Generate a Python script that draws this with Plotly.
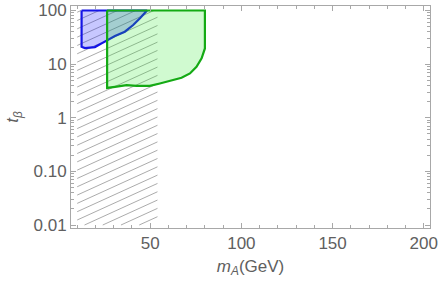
import numpy as np
import plotly.graph_objects as go

# ---- data ----
blue_x = [12.4, 12.4, 14.2, 19.7, 23.4, 26.1, 30.7, 36.1, 40.7, 44.4, 48.3, 12.4]
blue_y = [100, 21.0, 19.9, 20.8, 24.4, 27.3, 33.4, 40.2, 53.6, 71.5, 100, 100]

green_x = [26.4, 26.4, 30.7, 37.1, 42.5, 49.8, 55.3, 61.7, 67.2, 71.8, 75.4, 78.2, 80.0, 80.0, 26.4]
green_y = [100, 3.6, 3.77, 4.05, 3.93, 3.93, 4.36, 5.0, 5.55, 6.7, 8.9, 12.8, 19.6, 100, 100]

hatch_x = [10, 54]        # excluded m_A band
hatch_y = [0.01, 100]     # tan(beta) extent of the band

x_tickvals = [50, 100, 150, 200]
y_tickvals = [0.01, 0.1, 1, 10, 100]
y_ticktext = ["0.01", "0.10", "1", "10", "100"]

# ---- hatch lines computed from the band bounds ----
k = 0.0155      # log10 decades per GeV (line slope)
step = 0.155    # decade spacing between hatch lines
lx0, lx1 = hatch_x
ly0, ly1 = np.log10(hatch_y[0]), np.log10(hatch_y[1])
hx, hy = [], []
c = ly0 - k * (lx1 - lx0)
while c < ly1:
    xs = lx0 if c >= ly0 else lx0 + (ly0 - c) / k
    ye = c + k * (lx1 - lx0)
    xe = lx1 if ye <= ly1 else lx0 + (ly1 - c) / k
    if xe > xs:
        hx += [xs, xe, None]
        hy += [10 ** (c + k * (xs - lx0)), 10 ** (c + k * (xe - lx0)), None]
    c += step

fig = go.Figure()
fig.add_trace(go.Scatter(x=hx, y=hy, mode="lines",
                         line=dict(color="#8f8f8f", width=0.75),
                         hoverinfo="skip", showlegend=False))
fig.add_trace(go.Scatter(x=blue_x, y=blue_y, mode="lines", fill="toself",
                         fillcolor="rgba(0,0,255,0.22)",
                         line=dict(color="#1414e6", width=2.2),
                         showlegend=False))
fig.add_trace(go.Scatter(x=green_x, y=green_y, mode="lines", fill="toself",
                         fillcolor="rgba(40,230,40,0.22)",
                         line=dict(color="#14aa14", width=2.2),
                         showlegend=False))

font = dict(family="Liberation Sans, Arial, sans-serif", size=17, color="#606060")
axis_common = dict(showline=True, linecolor="#a8a8a8", linewidth=1, mirror="ticks",
                   ticks="inside", tickcolor="#a8a8a8", ticklen=5, showgrid=False,
                   zeroline=False, tickfont=font, automargin=False)

fig.update_layout(
    width=440, height=283,
    margin=dict(l=71, r=10, t=6, b=55),
    paper_bgcolor="white", plot_bgcolor="white",
    font=font,
    xaxis=dict(range=[6.6, 203.4], tickvals=x_tickvals,
               minor=dict(ticks="inside", ticklen=3, dtick=10, tick0=0, tickcolor="#a8a8a8"),
               title=dict(text="<i>m</i><sub><i>A</i></sub>(GeV)", font=font, standoff=7),
               **axis_common),
    yaxis=dict(type="log", range=[-2.056, 2.084], tickvals=y_tickvals, ticktext=y_ticktext,
               minor=dict(ticks="inside", ticklen=3, dtick="D1", tickcolor="#a8a8a8"),
               title=dict(text="<i>t</i><sub><i>β</i></sub>", font=font, standoff=10),
               **axis_common),
)

fig.write_html("out.html", config={"displayModeBar": False},
               post_script="document.body.style.margin='0';document.body.style.padding='0';")
